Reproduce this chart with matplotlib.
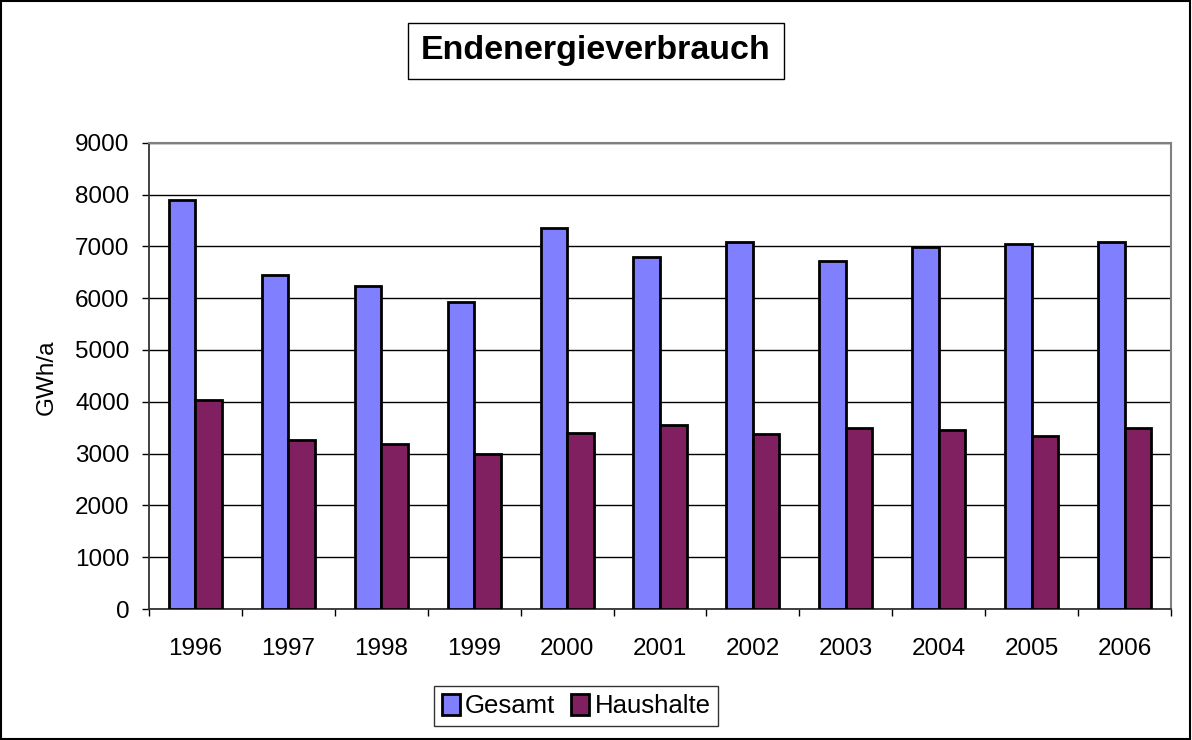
import matplotlib.pyplot as plt
import numpy as np
from matplotlib.patches import Rectangle

years = ['1996', '1997', '1998', '1999', '2000', '2001',
         '2002', '2003', '2004', '2005', '2006']
gesamt = [7900, 6440, 6225, 5930, 7350, 6800, 7080, 6715, 6990, 7050, 7080]
haushalte = [4030, 3270, 3185, 2990, 3390, 3560, 3385, 3490, 3450, 3340, 3490]
series_names = ['Gesamt', 'Haushalte']
colors = ['#8080FF', '#802060']

plt.rcParams['font.family'] = ['Liberation Sans', 'DejaVu Sans']

fig = plt.figure(figsize=(11.92, 7.40), dpi=100)
ax = fig.add_axes([149 / 1192, 1 - 609 / 740, (1171 - 149) / 1192, (609 - 142.7) / 740])

x = np.arange(len(years))
w = 1 / 3.5
ax.bar(x - w / 2, gesamt, w, color=colors[0], edgecolor='black', linewidth=2.0,
       label=series_names[0], zorder=3)
ax.bar(x + w / 2, haushalte, w, color=colors[1], edgecolor='black', linewidth=2.0,
       label=series_names[1], zorder=3)

ax.set_xlim(-0.5, len(years) - 0.5)
ax.set_ylim(0, 9000)
ax.set_yticks(range(0, 9001, 1000))
ax.yaxis.grid(True, color='black', linewidth=1.0, zorder=0)

# category ticks between groups, labels centred
ax.set_xticks(np.arange(-0.5, len(years), 1.0))
ax.set_xticklabels([])
ax.set_xticks(x, minor=True)
ax.set_xticklabels(years, minor=True, fontsize=17.5)
ax.tick_params(axis='x', which='major', length=5, width=1, direction='out')
ax.tick_params(axis='x', which='minor', length=0, pad=21)
ax.tick_params(axis='y', length=5, width=1, direction='out', labelsize=17.5, pad=9)

for s in ['top', 'right']:
    ax.spines[s].set_color('#808080')
    ax.spines[s].set_linewidth(1.5)
ax.spines['left'].set_color('#333333')
ax.spines['bottom'].set_color('#333333')
ax.spines['left'].set_linewidth(1.3)
ax.spines['bottom'].set_linewidth(1.3)

fig.text(47 / 1192, 1 - 377 / 740, 'GWh/a', rotation=90, fontsize=17.5,
         ha='center', va='center')

fig.text(596 / 1192, 1 - 51 / 740, 'Endenergieverbrauch', fontsize=24.5,
         fontweight='bold', ha='center', va='center',
         bbox=dict(boxstyle='square,pad=0.38', facecolor='white',
                   edgecolor='black', linewidth=1.0))

leg = fig.legend(loc='center', bbox_to_anchor=(576 / 1192, 1 - 706 / 740),
                 ncol=2, fontsize=18.5, frameon=True, fancybox=False,
                 handlelength=0.72, handleheight=0.9, handletextpad=0.2,
                 columnspacing=0.6, borderpad=0.3, borderaxespad=0)
leg.get_frame().set_edgecolor('black')
leg.get_frame().set_linewidth(1.0)

fig.patches.append(Rectangle((1 / 1192, 1 / 740), 1189 / 1192, 738 / 740,
                             transform=fig.transFigure, fill=False,
                             edgecolor='black', linewidth=1.5))

fig.savefig('out.png', dpi=100)
